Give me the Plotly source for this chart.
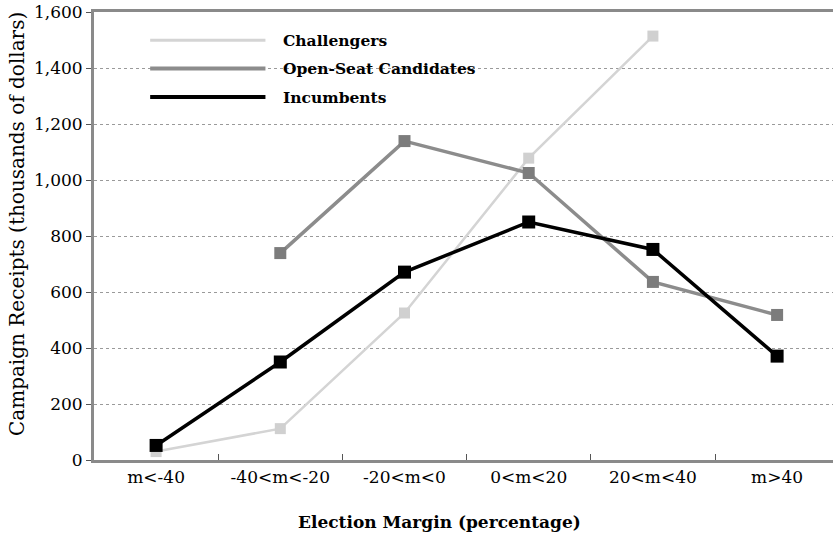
import plotly.graph_objects as go

categories = ["m<-40", "-40<m<-20", "-20<m<0", "0<m<20", "20<m<40", "m>40"]
challengers = [30, 112, 525, 1078, 1514, None]
open_seat = [None, 739, 1139, 1025, 636, 518]
incumbents = [52, 350, 671, 850, 752, 371]
y_ticks = [0, 200, 400, 600, 800, 1000, 1200, 1400, 1600]

FONT = "DejaVu Serif"

fig = go.Figure()
series = [
    ("Challengers", challengers, "#d4d4d4", "#d0d0d0", 2.5, 11),
    ("Open-Seat Candidates", open_seat, "#8c8c8c", "#7c7c7c", 3.5, 12),
    ("Incumbents", incumbents, "#000000", "#000000", 3.5, 13),
]
for name, vals, lc, mc, lw, ms in series:
    fig.add_trace(go.Scatter(
        x=categories, y=vals, name=name, mode="lines+markers",
        line=dict(color=lc, width=lw),
        marker=dict(symbol="square", size=ms, color=mc),
        connectgaps=False, showlegend=False,
    ))

# manual legend (paper coords)
leg_y = [0.937, 0.874, 0.810]
for (name, vals, lc, mc, lw, ms), yy in zip(series, leg_y):
    fig.add_shape(type="line", xref="paper", yref="paper",
                  x0=0.076, x1=0.232, y0=yy, y1=yy,
                  line=dict(color=lc, width=lw + 0.5))
    fig.add_annotation(xref="paper", yref="paper", x=0.253, y=yy,
                       text=f"<b>{name}</b>", showarrow=False,
                       xanchor="left", yanchor="middle",
                       font=dict(family=FONT, size=15.5, color="#000"))

# axis titles as annotations
fig.add_annotation(xref="paper", yref="paper", x=0.467, y=-0.138,
                   text="<b>Election Margin (percentage)</b>", showarrow=False,
                   xanchor="center", yanchor="middle",
                   font=dict(family=FONT, size=17, color="#000"))
fig.add_annotation(xref="paper", yref="paper", x=-0.104, y=0.527,
                   text="Campaign Receipts (thousands of dollars)",
                   showarrow=False, textangle=-90,
                   xanchor="center", yanchor="middle",
                   font=dict(family=FONT, size=20, color="#000"))

fig.update_layout(
    width=833, height=541,
    margin=dict(l=94, r=0, t=12, b=81, autoexpand=False),
    paper_bgcolor="white", plot_bgcolor="white",
    font=dict(family=FONT, size=17, color="#000"),
    showlegend=False,
)
fig.update_xaxes(
    type="category", categoryorder="array", categoryarray=categories,
    range=[-0.5, 5.45], automargin=False,
    showline=True, linecolor="#8a8a8a", linewidth=3, mirror=True,
    ticks="inside", ticklen=6, tickcolor="#555", tickson="boundaries",
    showgrid=False,
    tickfont=dict(family=FONT, size=17),
)
fig.update_yaxes(
    range=[0, 1600], tickvals=y_ticks, tickformat=",d", automargin=False,
    showline=True, linecolor="#8a8a8a", linewidth=3, mirror=True,
    ticks="outside", ticklen=5, tickcolor="#555",
    showgrid=True, gridcolor="#9a9a9a", gridwidth=1, griddash="dot",
    zeroline=False,
    tickfont=dict(family=FONT, size=17),
)
fig.write_html("out.html",
               config={"displayModeBar": False},
               post_script="document.body.style.margin='0px';document.body.style.padding='0px';")
